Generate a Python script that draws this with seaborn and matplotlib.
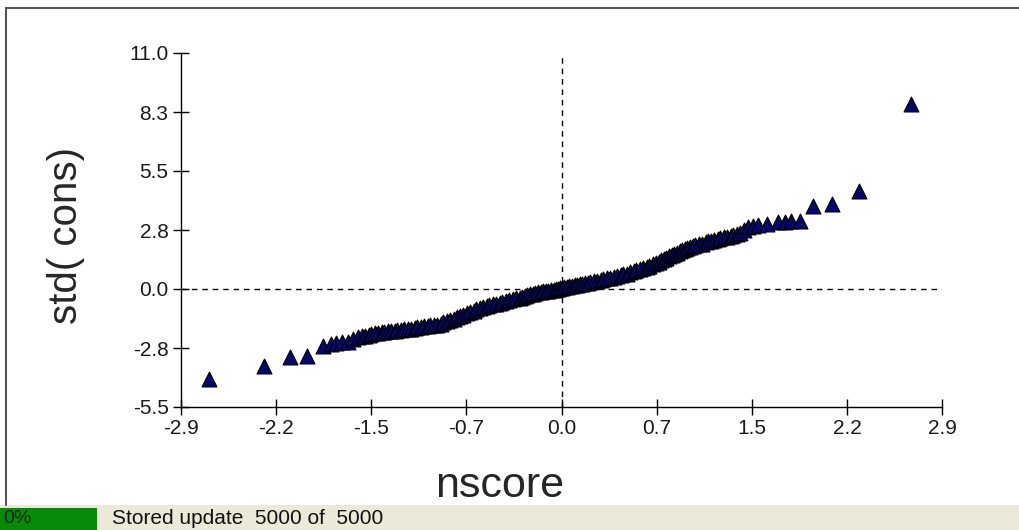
import numpy as np
import pandas as pd
import seaborn as sns
import matplotlib
matplotlib.use("Agg")
from matplotlib import pyplot as plt
from matplotlib.patches import Rectangle
from matplotlib.lines import Line2D

# normal scores vs standardized values
nscore = [-2.69, -2.27, -2.07, -1.94,
          -1.82, -1.76, -1.72, -1.67, -1.63, -1.59, -1.55, -1.52, -1.50, -1.47,
          -1.45, -1.42, -1.40, -1.37, -1.35, -1.32, -1.30, -1.27, -1.25, -1.22,
          -1.20, -1.17, -1.15, -1.12, -1.10, -1.07, -1.05, -1.02, -1.00, -0.97,
          -0.95, -0.92, -0.90, -0.87, -0.85, -0.82, -0.80, -0.77, -0.75, -0.72,
          -0.70, -0.67, -0.65, -0.62, -0.60, -0.57, -0.55, -0.52, -0.50, -0.47,
          -0.45, -0.42, -0.40, -0.37, -0.35, -0.32, -0.30, -0.28, -0.26, -0.24,
          -0.22, -0.20, -0.18, -0.16, -0.14, -0.12, -0.10, -0.08, -0.06, -0.04,
          -0.03, -0.01, 0.00, 0.02, 0.04, 0.06, 0.08, 0.10, 0.12, 0.14,
          0.16, 0.18, 0.20, 0.22, 0.25, 0.27, 0.30, 0.32, 0.35, 0.37,
          0.40, 0.42, 0.45, 0.47, 0.50, 0.52, 0.55, 0.57, 0.60, 0.62,
          0.65, 0.67, 0.70, 0.72, 0.74, 0.76, 0.78, 0.80, 0.82, 0.84,
          0.86, 0.88, 0.90, 0.92, 0.94, 0.96, 0.98, 1.00, 1.02, 1.05,
          1.07, 1.10, 1.12, 1.14, 1.16, 1.19, 1.21, 1.24, 1.26, 1.29,
          1.31, 1.34, 1.36, 1.39, 1.42, 1.46, 1.50, 1.57, 1.65, 1.70,
          1.75, 1.82, 1.92, 2.06, 2.27, 2.66]
std_cons = [-4.20, -3.60, -3.15, -3.10,
            -2.65, -2.55, -2.50, -2.47, -2.45, -2.35, -2.25, -2.21, -2.17, -2.13,
            -2.10, -2.07, -2.05, -2.02, -2.00, -1.98, -1.96, -1.94, -1.92, -1.90,
            -1.88, -1.86, -1.85, -1.81, -1.78, -1.75, -1.72, -1.71, -1.70, -1.69,
            -1.68, -1.62, -1.56, -1.50, -1.45, -1.38, -1.32, -1.26, -1.20, -1.14,
            -1.08, -1.01, -0.95, -0.90, -0.85, -0.80, -0.76, -0.72, -0.68, -0.64,
            -0.60, -0.56, -0.52, -0.48, -0.44, -0.40, -0.35, -0.31, -0.28, -0.25,
            -0.22, -0.19, -0.16, -0.13, -0.11, -0.09, -0.07, -0.05, -0.03, -0.01,
            0.01, 0.03, 0.05, 0.08, 0.10, 0.12, 0.14, 0.17, 0.19, 0.22,
            0.24, 0.27, 0.29, 0.31, 0.35, 0.38, 0.42, 0.46, 0.50, 0.53,
            0.57, 0.60, 0.64, 0.68, 0.72, 0.77, 0.82, 0.87, 0.93, 0.98,
            1.03, 1.09, 1.15, 1.22, 1.28, 1.34, 1.40, 1.46, 1.52, 1.59,
            1.65, 1.70, 1.75, 1.80, 1.85, 1.90, 1.95, 1.99, 2.03, 2.08,
            2.12, 2.17, 2.22, 2.26, 2.30, 2.34, 2.37, 2.41, 2.44, 2.47,
            2.50, 2.55, 2.60, 2.75, 2.90, 2.95, 3.00, 3.05, 3.10, 3.12,
            3.15, 3.15, 3.85, 3.95, 4.55, 8.60]

x_ticks = [-2.9, -2.175, -1.45, -0.725, 0.0, 0.725, 1.45, 2.175, 2.9]
x_labels = ["-2.9", "-2.2", "-1.5", "-0.7", "0.0", "0.7", "1.5", "2.2", "2.9"]
y_ticks = [-5.5, -2.75, 0.0, 2.75, 5.5, 8.25, 11.0]
y_labels = ["-5.5", "-2.8", "0.0", "2.8", "5.5", "8.3", "11.0"]

status_text = "Stored update  5000 of  5000"
progress_text = "0%"

df = pd.DataFrame({"nscore": nscore, "std( cons)": std_cons})

sns.set_style("white")
plt.rcParams['font.family'] = ['Liberation Sans', 'DejaVu Sans']

W, H = 1019, 530
fig = plt.figure(figsize=(W / 100, H / 100), dpi=100)
fig.patch.set_facecolor("white")


def fx(px):
    return px / W


def fy(py):
    return 1 - py / H


ax_w = 942 - 181
ax_h = 407 - 53
ax = fig.add_axes([fx(181), fy(407), fx(942) - fx(181), fy(53) - fy(407)])
ax.set_facecolor("none")

sns.scatterplot(data=df, x="nscore", y="std( cons)", ax=ax, marker="^", s=115,
                color="#07076a", edgecolor="black", linewidth=0.8, zorder=3)

ax.axhline(0, color="black", lw=1.0, ls=(0, (4, 3.5)), zorder=1)
ax.axvline(0, color="black", lw=1.0, ls=(0, (4, 3.5)), zorder=1)

ax.set_xlim(-2.9, 2.9)
ax.set_ylim(-5.5, 11.0)
ax.set_xticks(x_ticks)
ax.set_xticklabels(x_labels)
ax.set_yticks(y_ticks)
ax.set_yticklabels(y_labels)

for side in ["top", "right"]:
    ax.spines[side].set_visible(False)
for side in ["left", "bottom"]:
    ax.spines[side].set_color("black")
    ax.spines[side].set_linewidth(1.0)

ax.tick_params(axis="both", bottom=True, left=True, direction="inout",
               length=12, width=1.0, color="black", labelsize=15,
               labelcolor="#1a1a1a")
ax.tick_params(axis="x", pad=3)
ax.tick_params(axis="y", pad=3)

ax.set_xlabel("nscore", fontsize=31, va="center")
ax.xaxis.set_label_coords((500 - 181) / ax_w, -(486 - 407) / ax_h)
ax.set_ylabel("std( cons)", fontsize=29, va="center")
ax.yaxis.set_label_coords((66 - 181) / ax_w, (407 - 235) / ax_h)

# window frame
fig.add_artist(Line2D([fx(6), fx(6)], [fy(8), fy(505)], color="#555555", lw=1.5))
fig.add_artist(Line2D([fx(6), 1], [fy(8), fy(8)], color="#555555", lw=1.5))

# status bar
fig.add_artist(Rectangle((0, 0), 1, fy(505), transform=fig.transFigure,
                         facecolor="#ECE9D8", edgecolor="none"))
fig.add_artist(Rectangle((0, 0), fx(97), fy(508), transform=fig.transFigure,
                         facecolor="#078a07", edgecolor="none"))
fig.text(fx(3), fy(510), progress_text, fontsize=14, va="top",
         ha="left", color="#222222")
fig.text(fx(112), fy(509), status_text, fontsize=15, va="top", ha="left",
         color="#111111")

fig.savefig("out.png", dpi=100)
